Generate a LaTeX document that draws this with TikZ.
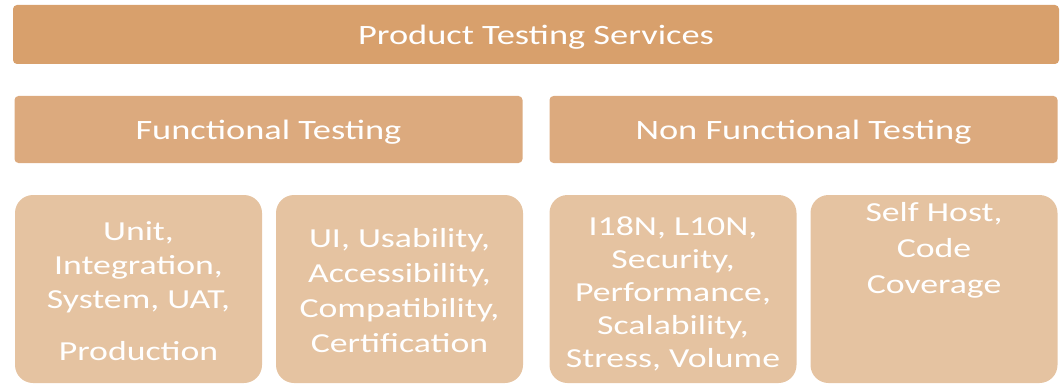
\documentclass[tikz,border=0pt]{standalone}
\usepackage{fontspec}
\setmainfont{Carlito}
\newfontfamily\widefont[FakeStretch=1.3]{Carlito}
\usetikzlibrary{positioning}
\definecolor{topclr}{HTML}{D8A06C}
\definecolor{midclr}{HTML}{DCAA7E}
\definecolor{lowclr}{HTML}{E5C3A1}
\tikzset{
  topbox/.style={fill=topclr, rounded corners=4pt, minimum width=1046pt, minimum height=59pt, text=white, font=\widefont\fontsize{28}{34}\selectfont, inner sep=0pt, text depth=0pt},
  midbox/.style={fill=midclr, rounded corners=4pt, minimum width=508pt, minimum height=67pt, text=white, font=\widefont\fontsize{28}{34}\selectfont, inner sep=0pt, text depth=0pt},
  lowbox/.style={fill=lowclr, rounded corners=18pt, minimum width=247pt, minimum height=188pt, inner sep=0pt},
  lowtext/.style={text=white, align=center, inner sep=0pt}
}
\begin{document}
\begin{tikzpicture}[x=1pt,y=-1pt]
    \useasboundingbox (0,0) rectangle (1062,385);

    % top
    \node[topbox] (services) at (536,34.5) {Product Testing Services};

    % second row
    \node[midbox] (func) at (268.5,129.5) {Functional Testing};
    \node[midbox] (nonfunc) at (803.5,129.5) {Non Functional Testing};

    % bottom row
    \node[lowbox] (unit) at (138.5,289) {};
    \node[lowbox] (ui) at (399.5,289) {};
    \node[lowbox] (intl) at (673,289) {};
    \node[lowbox] (host) at (934,289) {};

    \node[lowtext, font=\widefont\fontsize{27.5}{34}\selectfont] (unittext) at (138.5,291.5) {Unit,\\Integration,\\System, UAT,\\[18pt]Production};
    \node[lowtext, font=\widefont\fontsize{27.5}{35}\selectfont] (uitext) at (399.5,291) {UI, Usability,\\Accessibility,\\Compatibility,\\Certification};
    \node[lowtext, font=\widefont\fontsize{27.5}{33}\selectfont] (intltext) at (673,293.5) {I18N, L10N,\\Security,\\Performance,\\Scalability,\\Stress, Volume};
    \node[lowtext, anchor=north, font=\widefont\fontsize{27.5}{36}\selectfont] (hosttext) at ([yshift=-7pt]host.north) {Self Host,\\Code\\Coverage};

\end{tikzpicture}
\end{document}
